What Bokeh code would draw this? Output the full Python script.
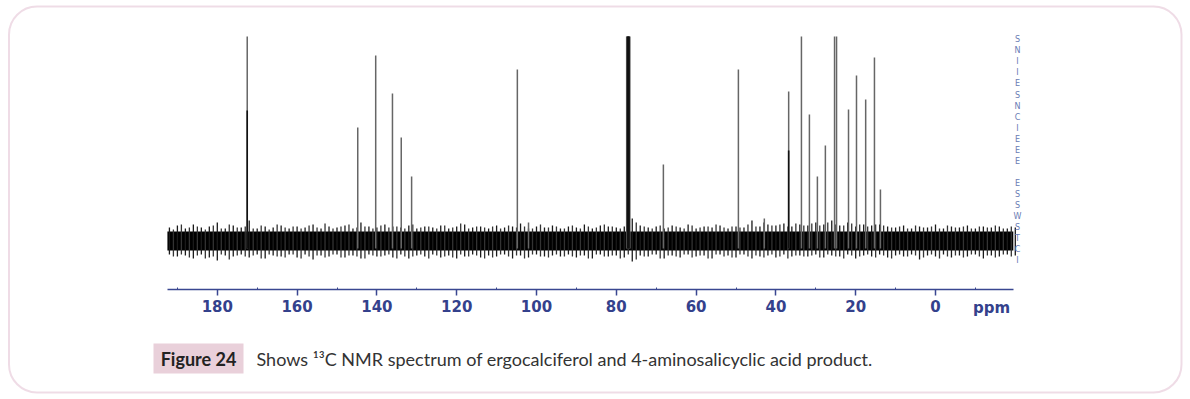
from bokeh.plotting import figure
from bokeh.models import Range1d, FixedTicker, Label, BoxAnnotation, ColumnDataSource
from bokeh.core.properties import value
from bokeh.embed import file_html
from bokeh.resources import INLINE

# ---------------- data ----------------
peak_ppm = [172.5, 144.8, 140.3, 136.1, 133.9, 131.3, 104.8, 102.0,
            77.4, 77.2, 77.0, 76.8, 76.6,
            68.2, 49.4, 42.9, 36.8, 33.6, 31.6, 29.6, 27.6, 25.3, 24.8,
            21.8, 19.8, 17.5, 15.3, 13.8]
peak_height = [102, 56.5, 92.5, 73.5, 51.5, 32, 85.5, 9,
               102, 102, 102, 102, 102,
               38, 85.5, 11, 74.5, 102, 63, 32, 47.5, 102, 102,
               65.5, 82.5, 70.5, 91.5, 25.5]
dark_ppm = [172.5, 36.8, 77.2, 77.0, 76.8]
dark_height = [65, 45, 102, 102, 102]

noise_ppm = list(range(192, -21, -2))
noise_top = [6.5, 7.5, 6, 8, 6.5, 7, 9, 6, 7.5, 6.5,
             10, 6, 7, 6.5, 7.5, 6, 7, 6.5, 8, 6,
             7, 6.5, 7.5, 6, 9, 7, 6.5, 8, 7, 6.5,
             7.5, 6, 7, 6.5, 7.5, 6, 7, 8, 6.5, 7,
             6, 7.5, 6.5, 7, 8.5, 6, 7, 6.5, 7.5, 6,
             7, 6.5, 8, 6, 7.5, 7, 6.5, 7, 11, 7.5,
             6.5, 7, 6, 7.5, 6.5, 8, 6, 7, 6.5, 7.5,
             6, 7, 6.5, 10, 7, 8, 7.5, 8.5, 7, 8,
             7.5, 9, 8, 10, 7.5, 9, 7, 8, 7.5, 8,
             7, 6.5, 7.5, 6, 7, 6.5, 8, 6, 7, 6.5,
             7.5, 6, 7, 6.5, 7, 6, 6.5]
noise_bottom = [-7, -8, -7.5, -9, -7, -8.5, -10, -7.5, -8, -7,
                -8.5, -7, -9, -7.5, -8, -7, -8.5, -7, -9.5, -7.5,
                -8, -7, -8.5, -7.5, -9, -7, -8, -7.5, -8.5, -7,
                -9, -7.5, -8, -7, -8.5, -7.5, -9, -8, -7, -8.5,
                -7.5, -8, -7, -9, -7.5, -8.5, -7, -8, -7.5, -8,
                -7, -8.5, -7.5, -9, -7, -8, -7.5, -8.5, -10.5, -7.5,
                -8, -7, -9, -7.5, -8.5, -7, -8, -7.5, -9, -7,
                -7.5, -8.5, -7, -9, -8, -7.5, -8.5, -7, -8, -7.5,
                -8, -7, -8.5, -7.5, -8, -7, -9, -7.5, -8, -7,
                -8.5, -7.5, -8, -7, -9.5, -7.5, -8, -7, -8.5, -7.5,
                -8, -7, -9, -7.5, -8, -7, -7.5]
noise2_ppm = list(range(191, -20, -2))
noise2_top = [5.5, 8, 6.5, 7, 5.5, 7.5, 6, 8, 6.5, 7,
              6, 7.5, 5.5, 8, 6.5, 7, 6, 7.5, 6.5, 8.5,
              6, 7, 8, 6.5, 7, 6, 7.5, 6.5, 7, 6,
              8, 6.5, 7, 6, 7.5, 6.5, 8.5, 6, 7, 6.5,
              7, 6, 7.5, 6.5, 7, 6, 8, 6.5, 7, 6,
              7.5, 6, 7, 6.5, 8, 7, 6, 8, 9, 7,
              6, 7.5, 6.5, 7, 6, 7.5, 6.5, 7, 8, 6.5,
              7, 6.5, 8, 7, 9, 7.5, 8, 7, 8.5, 7.5,
              8.5, 7.5, 9, 8, 7.5, 8.5, 8, 7, 8, 7.5,
              6.5, 7, 6, 7.5, 6.5, 7, 6, 7.5, 6.5, 7,
              6, 7, 6.5, 7.5, 6, 7]
noise2_bottom = [-8, -7, -8.5, -7.5, -9, -8, -7, -9.5, -7.5, -8,
                 -7.5, -9, -7, -8, -8.5, -7, -9, -8, -7.5, -8.5,
                 -7, -8.5, -7.5, -8, -9, -7.5, -8, -7, -9, -8,
                 -8, -7, -9, -7.5, -8, -8.5, -7, -8, -7.5, -9,
                 -8.5, -7, -8, -7.5, -9, -7, -8, -8.5, -7, -8,
                 -8, -7.5, -9, -7, -8, -7.5, -9, -7, -9.5, -8,
                 -7, -9, -7.5, -8, -7, -8.5, -7.5, -9, -7, -8,
                 -8.5, -7, -8, -7.5, -8.5, -7, -8, -9, -7.5, -8,
                 -7.5, -8.5, -7, -8, -9, -7.5, -8, -7, -8.5, -7.5,
                 -9, -7, -8, -7.5, -8.5, -7, -9, -8, -7.5, -8.5,
                 -7, -8, -7.5, -8.5, -7, -8]
band_left = [192.5]
band_right = [-19.5]
band_top = [4.5]
band_bottom = [-5.0]

major_ticks = [180, 160, 140, 120, 100, 80, 60, 40, 20, 0]
minor_ticks = [190, 170, 150, 130, 110, 90, 70, 50, 30, 10, -10]
axis_unit = "ppm"

side_letters_1 = ["S", "N", "I", "I", "E", "S", "N", "C", "I", "E", "E", "E"]
side_letters_2 = ["E", "S", "S", "W", "S", "T", "C", "I"]

fig_label = "Figure 24"
caption = "Shows \u00b9\u00b3C NMR spectrum of ergocalciferol and 4-aminosalicyclic acid product."

# ---------------- geometry helpers (canvas px -> data) ----------------
W, H = 1190, 399
K = 3.99          # px per ppm
CX0 = 935.0       # canvas x of 0 ppm
CY0 = 240.0       # canvas y of 0 intensity
KY = 2.0          # px per intensity unit


def px_x(cx):
    return (CX0 - cx) / K


def px_y(cy):
    return (CY0 - cy) / KY


p = figure(width=W, height=H, output_backend="svg", toolbar_location=None,
           x_range=Range1d(px_x(0), px_x(W)),
           y_range=Range1d(px_y(H), px_y(0)),
           min_border=0, y_axis_location=None)
p.outline_line_color = None
p.grid.visible = False
p.background_fill_color = "white"
p.border_fill_color = "white"

# noise band
p.quad(left=band_left, right=band_right, top=band_top, bottom=band_bottom,
       fill_color="#000000", line_color=None)
ns = ColumnDataSource(dict(x=noise_ppm, t=noise_top, b=noise_bottom))
p.segment(x0="x", y0="b", x1="x", y1="t", source=ns, line_color="#1a1a1a",
          line_width=1.3)
ns2 = ColumnDataSource(dict(x=noise2_ppm, t=noise2_top, b=noise2_bottom))
p.segment(x0="x", y0="b", x1="x", y1="t", source=ns2, line_color="#333333",
          line_width=1.3)

# peaks
ps = ColumnDataSource(dict(x=peak_ppm, h=peak_height, b=[-4.0] * len(peak_ppm)))
p.segment(x0="x", y0="b", x1="x", y1="h", source=ps, line_color="#666666",
          line_width=1.5)
ds = ColumnDataSource(dict(x=dark_ppm, h=dark_height, b=[-4.0] * len(dark_ppm)))
p.segment(x0="x", y0="b", x1="x", y1="h", source=ds, line_color="#111111",
          line_width=1.6)

# side letters
sy = [px_y(39 + 11.1 * i) for i in range(len(side_letters_1))] + \
     [px_y(183 + 11.0 * i) for i in range(len(side_letters_2))]
ss = ColumnDataSource(dict(x=[px_x(1017)] * len(sy), y=sy,
                           t=side_letters_1 + side_letters_2))
p.text(x="x", y="y", text="t", source=ss, text_font=value("DejaVu Sans"),
       text_font_size="8px", text_color="#6a7cb4", text_align="center",
       text_baseline="middle")

# axis (fixed inside the frame so that the frame covers the whole canvas)
ax = p.xaxis[0]
ax.fixed_location = px_y(289)
ax.ticker = FixedTicker(ticks=major_ticks, minor_ticks=minor_ticks)
ax.bounds = (-19.5, 192.5)
ax.axis_line_color = "#3a4791"
ax.axis_line_width = 1.5
ax.major_tick_line_color = "#3a4791"
ax.major_tick_line_width = 1.5
ax.major_tick_out = 6
ax.major_tick_in = 0
ax.minor_tick_line_color = "#3a4791"
ax.minor_tick_out = 0
ax.minor_tick_in = 2
ax.major_label_text_font = "DejaVu Sans"
ax.major_label_text_font_style = "bold"
ax.major_label_text_font_size = "15px"
ax.major_label_text_color = "#34418c"
ax.major_label_standoff = 4

p.add_layout(Label(x=px_x(991), y=px_y(307), text=axis_unit, text_align="center",
                   text_baseline="middle", text_font="DejaVu Sans",
                   text_font_style="bold", text_font_size="15px",
                   text_color="#34418c"))

# outer rounded border
p.add_layout(BoxAnnotation(left=px_x(8.5), right=px_x(1181), top=px_y(6), bottom=px_y(392),
                           fill_color=None, line_color="#c98aab", line_width=2,
                           border_radius=28, level="overlay"))

# caption
p.add_layout(BoxAnnotation(left=px_x(153), right=px_x(243), top=px_y(343), bottom=px_y(373),
                           fill_color="#e9d0da", fill_alpha=1, line_color=None,
                           level="underlay"))
p.add_layout(Label(x=px_x(198), y=px_y(358), text=fig_label, text_align="center",
                   text_baseline="middle", text_font="Lato", text_font_style="bold",
                   text_font_size="18px", text_color="#222222"))
p.add_layout(Label(x=px_x(256), y=px_y(358), text=caption, text_align="left",
                   text_baseline="middle", text_font="Lato",
                   text_font_size="18px", text_color="#333333"))

open("out.html", "w").write(file_html(p, INLINE))
